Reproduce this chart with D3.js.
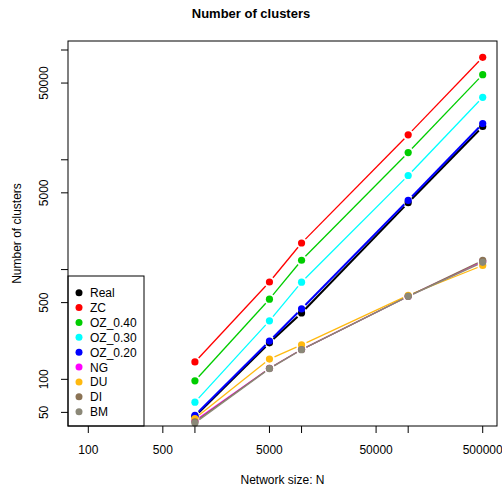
<!DOCTYPE html>
<html>
<head>
<meta charset="utf-8">
<script src="https://cdn.jsdelivr.net/npm/d3@7"></script>
<style>
  body { margin: 0; background: #fff; }
  svg { font-family: "Liberation Sans", Arial, sans-serif; }
</style>
</head>
<body>
<svg width="502" height="489"></svg>
<script>
// network sizes (x) and cluster counts per method (y)
const sizes = [1000, 5000, 10000, 100000, 500000]
const seriesNames = ['Real', 'ZC', 'OZ_0.40', 'OZ_0.30', 'OZ_0.20', 'NG', 'DU', 'DI', 'BM']
const real   = [46, 215, 403, 4065, 20100]
const zc     = [144, 770, 1745, 16870, 85700]
const oz040  = [97, 537, 1216, 11640, 59600]
const oz030  = [62, 341, 768, 7190, 37060]
const oz020  = [47, 223, 438, 4266, 21400]
const ng     = [42, 126, 187, 571, 1190]
const du     = [44, 153, 206, 583, 1090]
const di     = [41, 126, 187, 571, 1213]
const bm     = [40, 125, 186, 570, 1165]
const colors = ['#000000', '#FF0000', '#00CD00', '#00FFFF', '#0000FF', '#FF00FF', '#FFB90F', '#8B7355', '#8B8878']
const xTicks = [100, 500, 1000, 5000, 10000, 50000, 100000, 500000]
const xLabels = [100, 500, 5000, 50000, 500000]
const yTicks = [50, 100, 500, 1000, 5000, 10000, 50000, 100000]
const yLabels = [50, 100, 500, 5000, 50000]

const allValues = [real, zc, oz040, oz030, oz020, ng, du, di, bm]

const svg = d3.select('svg')
const margin = {top: 41, right: 5, bottom: 63, left: 68}
const width = 502 - margin.left - margin.right
const height = 489 - margin.top - margin.bottom
const g = svg.append('g').attr('transform', `translate(${margin.left},${margin.top})`)

// log axes, limits as R drew them
const x = d3.scaleLog().domain([Math.pow(10, 1.8096), Math.pow(10, 5.833)]).range([0, width])
const y = d3.scaleLog().domain([Math.pow(10, 1.575), Math.pow(10, 5.082)]).range([height, 0])

// title
svg.append('text')
  .attr('x', 251).attr('y', 18)
  .attr('text-anchor', 'middle')
  .style('font-weight', 'bold').style('font-size', '13px')
  .text('Number of clusters')

// x axis
const xAxis = g.append('g').attr('transform', `translate(0,${height})`)
xAxis.selectAll('line').data(xTicks).enter().append('line')
  .attr('x1', d => x(d)).attr('x2', d => x(d))
  .attr('y1', 0).attr('y2', 7).attr('stroke', '#000')
xAxis.selectAll('text').data(xLabels).enter().append('text')
  .attr('x', d => x(d)).attr('y', 28)
  .attr('text-anchor', 'middle').style('font-size', '12px')
  .text(d => d)
svg.append('text')
  .attr('x', margin.left + width / 2).attr('y', 484)
  .attr('text-anchor', 'middle').style('font-size', '12px')
  .text('Network size: N')

// y axis
const yAxis = g.append('g')
yAxis.selectAll('line').data(yTicks).enter().append('line')
  .attr('x1', -7).attr('x2', 0)
  .attr('y1', d => y(d)).attr('y2', d => y(d)).attr('stroke', '#000')
yAxis.selectAll('text').data(yLabels).enter().append('text')
  .attr('transform', d => `translate(-20,${y(d)}) rotate(-90)`)
  .attr('text-anchor', 'middle').style('font-size', '12px')
  .text(d => d)
svg.append('text')
  .attr('transform', `translate(21,${margin.top + height / 2}) rotate(-90)`)
  .attr('text-anchor', 'middle').style('font-size', '12px')
  .text('Number of clusters')

// series: lines with gaps around points (type = "b")
const gap = 5.5
seriesNames.forEach((name, i) => {
  const pts = sizes.map((s, j) => [x(s), y(allValues[i][j])])
  const segs = []
  for (let j = 0; j < pts.length - 1; j++) {
    const [x0, y0] = pts[j], [x1, y1] = pts[j + 1]
    const len = Math.hypot(x1 - x0, y1 - y0)
    if (len <= 2 * gap) continue
    const ux = (x1 - x0) / len, uy = (y1 - y0) / len
    segs.push([x0 + ux * gap, y0 + uy * gap, x1 - ux * gap, y1 - uy * gap])
  }
  const sg = g.append('g').attr('class', 'series')
  sg.selectAll('line').data(segs).enter().append('line')
    .attr('x1', d => d[0]).attr('y1', d => d[1])
    .attr('x2', d => d[2]).attr('y2', d => d[3])
    .attr('stroke', colors[i])
    .attr('stroke-width', i === 0 || i === 4 ? 2 : 1.3)
  sg.selectAll('circle').data(pts).enter().append('circle')
    .attr('cx', d => d[0]).attr('cy', d => d[1])
    .attr('r', 3.6).attr('fill', colors[i])
})

// legend
const legend = g.append('g')
legend.append('rect')
  .attr('x', 0).attr('y', 276 - margin.top)
  .attr('width', 76).attr('height', height - (276 - margin.top))
  .attr('fill', '#fff').attr('stroke', '#000')
const items = legend.selectAll('.item').data(seriesNames).enter().append('g')
  .attr('transform', (d, i) => `translate(0,${292.7 - margin.top + i * 14.87})`)
items.append('circle').attr('cx', 11).attr('cy', 0).attr('r', 3.5)
  .attr('fill', (d, i) => colors[i])
items.append('text').attr('x', 22).attr('y', 4.5)
  .style('font-size', '12px').text(d => d)

// plot box
g.append('rect').attr('width', width).attr('height', height)
  .attr('fill', 'none').attr('stroke', '#000')
</script>
</body>
</html>
